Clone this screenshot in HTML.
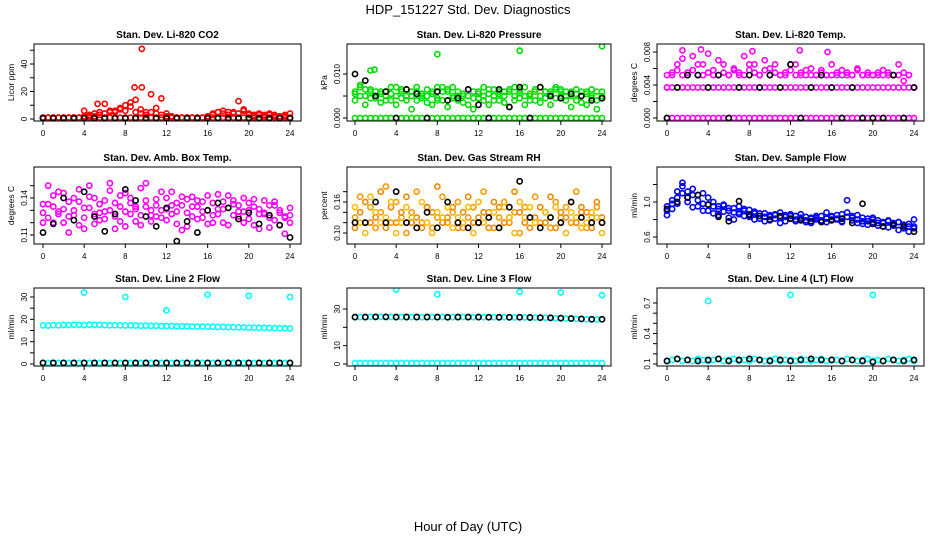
<!DOCTYPE html>
<html><head><meta charset="utf-8">
<style>
body{margin:0;background:#fff;}
svg{display:block;font-family:"Liberation Sans",sans-serif;}
</style></head>
<body>
<svg id="chart" width="936" height="540" viewBox="0 0 936 540">
<rect width="936" height="540" fill="#fff"/>
<text x="468" y="14" text-anchor="middle" font-size="13">HDP_151227  Std. Dev. Diagnostics</text>
<text x="468" y="531" text-anchor="middle" font-size="13">Hour of Day (UTC)</text>
</svg>
<script>
const xTicks=[0,4,8,12,16,20,24];
// P1 CO2
const co2Base=[1,1,1,1,1,1,1,1,1,1,1,1,1,1,1,1,1,1,1,1,1,1,1,1,1,1,1,1,1,1,1,1,1,1,1,1,1,1,1,1,1,1,1,1,1,1,1,1,1];
const co2A=[1,1,1,1,1,1,1,1,6,2,4,3,11,5,6,8,10,12,14,7,5,18,8,15,4,2,1,1,1,1,1,1,1,3,5,6,5,4,13,7,4,3,4,3,4,3,2,3,4];
const co2B=[1,1,1,1,1,1,1,1,2,3,2,5,4,6,5,7,6,9,5,4,3,5,4,3,2,1,1,1,1,1,1,1,2,4,5,4,3,5,4,6,3,2,3,2,3,2,1,2,1];
const co2Black=[0.5,0.5,0.5,0.5,0.5,0.5,0.5,0.5,0.5,0.5,0.5,0.5,0.5,0.5,0.5,0.5,0.5,0.5,0.5,0.5,0.5,0.5,0.5,0.5,0.5];
const co2OutT=[9.6,9.6,8.9,5.3];
const co2OutV=[51,23,23,11];
// P2 Pressure
const presZero=[0,0,0,0,0,0,0,0,0,0,0,0,0,0,0,0,0,0,0,0,0,0,0,0,0,0,0,0,0,0,0,0,0,0,0,0,0,0,0,0,0,0,0,0,0,0,0,0,0];
const presA=[0.006,0.007,0.0065,0.006,0.005,0.006,0.004,0.0055,0.007,0.006,0.0065,0.005,0.006,0.0045,0.0035,0.006,0.007,0.007,0.006,0.0045,0.006,0.005,0.003,0.006,0.0055,0.004,0.0065,0.005,0.006,0.0035,0.006,0.007,0.0065,0.005,0.004,0.006,0.007,0.0045,0.006,0.0065,0.005,0.004,0.006,0.0055,0.0035,0.006,0.005,0.004,0.006];
const presB=[0.004,0.005,0.003,0.0045,0.006,0.0035,0.005,0.004,0.003,0.0045,0.005,0.002,0.004,0.0055,0.005,0.003,0.0045,0.004,0.0025,0.005,0.004,0.0035,0.005,0.002,0.0045,0.005,0.003,0.004,0.0055,0.005,0.0025,0.004,0.0045,0.003,0.005,0.004,0.0035,0.006,0.003,0.0045,0.006,0.005,0.0025,0.004,0.005,0.003,0.0045,0.002,0.005];
const presC=[0.0055,0.0075,0.005,0.0065,0.0045,0.0055,0.006,0.007,0.005,0.0065,0.004,0.006,0.007,0.005,0.0065,0.0055,0.004,0.006,0.0065,0.007,0.005,0.0055,0.0065,0.0045,0.006,0.007,0.0055,0.0065,0.004,0.006,0.0065,0.005,0.006,0.007,0.0055,0.0065,0.005,0.006,0.0055,0.007,0.0065,0.006,0.005,0.0065,0.006,0.0055,0.0065,0.006,0.0045];
const presBlack=[0.01,0.0085,0.005,0.006,0,0.0065,0.0055,0,0.006,0.004,0.0045,0.0065,0.003,0,0.0065,0.0025,0.007,0,0.007,0.005,0.0045,0.0055,0.005,0.004,0.0045];
const presOutT=[8,16,24,1.5,1.9];
const presOutV=[0.0145,0.0153,0.0163,0.0108,0.011];
// P3 Li-820 temp
const tmpZero=[0,0,0,0,0,0,0,0,0,0,0,0,0,0,0,0,0,0,0,0,0,0,0,0,0,0,0,0,0,0,0,0,0,0,0,0,0,0,0,0,0,0,0,0,0,0,0,0,0];
const tmpMid=[0.0037,0.0037,0.0037,0.0037,0.0037,0.0037,0.0037,0.0037,0.0037,0.0037,0.0037,0.0037,0.0037,0.0037,0.0037,0.0037,0.0037,0.0037,0.0037,0.0037,0.0037,0.0037,0.0037,0.0037,0.0037,0.0037,0.0037,0.0037,0.0037,0.0037,0.0037,0.0037,0.0037,0.0037,0.0037,0.0037,0.0037,0.0037,0.0037,0.0037,0.0037,0.0037,0.0037,0.0037,0.0037,0.0037,0.0037,0.0037,0.0037];
const tmpA=[0.0052,0.0055,0.0065,0.0052,0.0055,0.0075,0.0052,0.0065,0.0055,0.0052,0.007,0.0055,0.0052,0.006,0.0055,0.0052,0.0065,0.0055,0.0052,0.007,0.006,0.0055,0.0052,0.0055,0.0065,0.0052,0.0055,0.0052,0.006,0.0052,0.0055,0.0052,0.0065,0.0055,0.0052,0.0055,0.0052,0.006,0.0052,0.0055,0.0052,0.0055,0.0052,0.0055,0.0052,0.0052,0.0055,0.0052,0.0037];
const tmpB=[0.0037,0.0052,0.0058,0.0072,0.0052,0.0058,0.0065,0.0052,0.0078,0.0058,0.0052,0.0065,0.0052,0.0058,0.0052,0.0075,0.0058,0.0065,0.0052,0.0058,0.0052,0.0065,0.0052,0.0052,0.0058,0.0065,0.0052,0.0058,0.0052,0.0052,0.0058,0.0052,0.0052,0.0052,0.0058,0.0052,0.0052,0.0058,0.0052,0.0052,0.0052,0.0052,0.0058,0.0052,0.0052,0.0065,0.0045,0.0052,0.0037];
const tmpBlack=[0,0.0037,0.0052,0.0052,0.0037,0.0052,0,0.0037,0.0052,0.0037,0.0052,0.0037,0.0065,0,0.0037,0.0052,0.0037,0,0.0037,0,0,0,0.0052,0,0.0037];
const tmpOutT=[1.5,3.3,8.3,12.9,15.6];
const tmpOutV=[0.0082,0.0083,0.0081,0.0082,0.008];
// P4 Amb box temp
const ambA=[0.128,0.135,0.120,0.145,0.131,0.125,0.140,0.118,0.132,0.150,0.127,0.122,0.138,0.130,0.115,0.142,0.129,0.136,0.121,0.148,0.133,0.126,0.139,0.124,0.131,0.145,0.119,0.134,0.128,0.141,0.123,0.137,0.130,0.126,0.143,0.120,0.132,0.138,0.125,0.129,0.136,0.118,0.131,0.127,0.134,0.122,0.130,0.125,0.120];
const ambB=[0.120,0.150,0.133,0.127,0.144,0.112,0.130,0.137,0.124,0.141,0.119,0.135,0.129,0.146,0.125,0.133,0.117,0.140,0.131,0.126,0.152,0.121,0.134,0.130,0.140,0.127,0.136,0.114,0.139,0.125,0.133,0.129,0.142,0.120,0.131,0.137,0.118,0.135,0.129,0.140,0.123,0.133,0.127,0.138,0.116,0.134,0.128,0.124,0.132];
const ambC=[0.135,0.124,0.142,0.129,0.120,0.137,0.126,0.147,0.115,0.132,0.140,0.128,0.123,0.152,0.136,0.121,0.144,0.127,0.133,0.118,0.138,0.130,0.125,0.145,0.122,0.134,0.129,0.141,0.117,0.133,0.138,0.124,0.119,0.136,0.127,0.131,0.142,0.126,0.134,0.120,0.130,0.139,0.115,0.128,0.124,0.137,0.118,0.111,0.126];
const ambBlack=[0.112,0.119,0.140,0.122,0.145,0.125,0.113,0.127,0.147,0.138,0.125,0.117,0.132,0.105,0.121,0.112,0.130,0.136,0.132,0.123,0.128,0.119,0.126,0.118,0.108];
// P5 Gas stream RH
const rhA=[0.13,0.17,0.12,0.15,0.11,0.14,0.19,0.12,0.16,0.13,0.10,0.14,0.18,0.12,0.15,0.11,0.13,0.17,0.12,0.14,0.16,0.11,0.13,0.15,0.12,0.18,0.14,0.11,0.13,0.16,0.12,0.14,0.10,0.15,0.13,0.17,0.12,0.14,0.11,0.16,0.13,0.15,0.12,0.18,0.14,0.11,0.13,0.15,0.12];
const rhB=[0.11,0.14,0.16,0.12,0.13,0.18,0.11,0.15,0.12,0.14,0.17,0.12,0.13,0.11,0.15,0.14,0.19,0.12,0.13,0.15,0.11,0.14,0.17,0.12,0.13,0.14,0.11,0.16,0.15,0.12,0.13,0.18,0.14,0.12,0.11,0.13,0.15,0.12,0.17,0.11,0.14,0.13,0.16,0.12,0.15,0.14,0.11,0.16,0.13];
const rhC=[0.15,0.12,0.10,0.17,0.14,0.12,0.13,0.16,0.10,0.12,0.15,0.13,0.11,0.16,0.12,0.10,0.14,0.13,0.15,0.11,0.13,0.12,0.15,0.10,0.16,0.12,0.13,0.14,0.11,0.15,0.13,0.10,0.16,0.13,0.15,0.12,0.11,0.14,0.13,0.15,0.12,0.10,0.14,0.13,0.11,0.12,0.14,0.13,0.10];
const rhBlack=[0.12,0.12,0.16,0.12,0.18,0.12,0.11,0.14,0.11,0.16,0.12,0.11,0.12,0.13,0.11,0.15,0.20,0.13,0.11,0.13,0.12,0.16,0.13,0.12,0.12];
// P6 Sample flow
const sfA=[0.90,0.98,1.05,1.10,1.12,1.08,1.02,0.98,1.05,0.95,0.92,0.96,0.90,0.93,0.88,0.92,0.86,0.89,0.84,0.87,0.83,0.86,0.82,0.85,0.81,0.84,0.80,0.83,0.82,0.80,0.84,0.81,0.83,0.80,0.86,0.88,0.82,0.80,0.78,0.81,0.77,0.79,0.76,0.78,0.75,0.77,0.74,0.72,0.70];
const sfB=[0.85,0.92,1.12,1.18,1.05,1.15,0.95,1.10,0.90,1.00,0.85,0.97,0.82,0.88,0.95,0.84,0.91,0.80,0.87,0.83,0.79,0.85,0.88,0.78,0.84,0.80,0.86,0.77,0.81,0.84,0.78,0.88,0.80,0.85,0.78,1.02,0.84,0.76,0.82,0.74,0.80,0.76,0.72,0.79,0.73,0.77,0.70,0.75,0.80];
const sfC=[0.95,1.02,0.98,1.22,1.00,0.94,1.08,0.90,0.97,0.87,0.95,0.89,0.93,0.80,0.86,0.90,0.83,0.87,0.81,0.78,0.85,0.81,0.76,0.83,0.86,0.78,0.82,0.79,0.76,0.82,0.79,0.77,0.84,0.81,0.77,0.83,0.79,0.85,0.75,0.78,0.82,0.73,0.77,0.71,0.76,0.68,0.74,0.66,0.72];
const sfBlack=[0.92,1.00,1.05,1.08,0.97,0.83,0.78,1.01,0.85,0.84,0.80,0.84,0.81,0.79,0.78,0.77,0.79,0.81,0.76,0.98,0.75,0.72,0.74,0.72,0.66];
// P7 Line 2 flow
const l2A=[17.3,17.2,17.4,17.3,17.5,17.4,17.6,17.5,17.4,17.6,17.5,17.5,17.4,17.3,17.4,17.3,17.2,17.3,17.2,17.1,17.2,17.1,17.1,17.0,17.0,17.0,16.9,16.9,16.9,16.8,16.8,16.8,16.7,16.7,16.6,16.6,16.5,16.5,16.4,16.4,16.3,16.3,16.2,16.2,16.1,16.1,16.0,16.0,15.9];
const l2Zero=[0.5,0.5,0.5,0.5,0.5,0.5,0.5,0.5,0.5,0.5,0.5,0.5,0.5,0.5,0.5,0.5,0.5,0.5,0.5,0.5,0.5,0.5,0.5,0.5,0.5,0.5,0.5,0.5,0.5,0.5,0.5,0.5,0.5,0.5,0.5,0.5,0.5,0.5,0.5,0.5,0.5,0.5,0.5,0.5,0.5,0.5,0.5,0.5,0.5];
const l2OutT=[4,8,12,16,20,24];
const l2OutV=[32,30,24,31,30.5,30];
// P8 Line 3 flow
const l3A=[25.5,25.6,25.6,25.7,25.6,25.7,25.6,25.7,25.6,25.6,25.7,25.6,25.6,25.5,25.6,25.6,25.5,25.6,25.5,25.6,25.5,25.6,25.5,25.5,25.6,25.5,25.5,25.5,25.4,25.5,25.4,25.4,25.5,25.4,25.3,25.3,25.2,25.2,25.1,25.0,24.9,24.8,24.7,24.6,24.5,24.4,24.4,24.3,24.4];
const l3Zero=[0.5,0.5,0.5,0.5,0.5,0.5,0.5,0.5,0.5,0.5,0.5,0.5,0.5,0.5,0.5,0.5,0.5,0.5,0.5,0.5,0.5,0.5,0.5,0.5,0.5,0.5,0.5,0.5,0.5,0.5,0.5,0.5,0.5,0.5,0.5,0.5,0.5,0.5,0.5,0.5,0.5,0.5,0.5,0.5,0.5,0.5,0.5,0.5,0.5];
const l3Black=[25.6,25.6,25.7,25.7,25.6,25.6,25.6,25.6,25.6,25.5,25.6,25.6,25.6,25.5,25.5,25.5,25.5,25.4,25.3,25.2,25.0,24.8,24.6,24.4,24.4];
const l3OutT=[4,8,16,20,24];
const l3OutV=[40.5,38,39.5,39,37.5];
// P9 Line 4 flow
const l4A=[0.13,0.14,0.15,0.13,0.14,0.13,0.15,0.14,0.13,0.14,0.15,0.13,0.14,0.15,0.13,0.14,0.13,0.15,0.14,0.13,0.14,0.15,0.13,0.14,0.14,0.13,0.15,0.14,0.13,0.14,0.15,0.13,0.14,0.14,0.13,0.15,0.14,0.13,0.14,0.15,0.13,0.14,0.13,0.15,0.14,0.13,0.14,0.15,0.13];
const l4Black=[0.13,0.15,0.14,0.13,0.14,0.15,0.13,0.14,0.15,0.14,0.13,0.14,0.13,0.14,0.15,0.14,0.14,0.13,0.14,0.13,0.12,0.13,0.14,0.13,0.14];
const l4OutT=[4,12,20];
const l4OutV=[0.72,0.78,0.78];

const cols=[{L:34,R:301,x0:43,x24:290},{L:347,R:611,x0:355,x24:602},{L:657,R:924,x0:667,x24:914}];
const rows=[{T:44,B:121},{T:167,B:244},{T:288,B:366}];
const panels=[
 {id:'co2',title:'Stan. Dev. Li-820 CO2',ylab:'Licor ppm',c:0,r:0,v0:0,p0:119,v1:40,p1:64,ticks:[0,10,20,30,40,50],labels:[0,20,40],dec:0,
  series:[[co2Base,0.5,'#f00'],[co2B,0.5,'#f00'],[co2A,0.5,'#f00'],[co2Black,1,'#000']],out:[co2OutT,co2OutV,'#f00']},
 {id:'pressure',title:'Stan. Dev. Li-820 Pressure',ylab:'kPa',c:1,r:0,v0:0,p0:118,v1:0.01,p1:74,ticks:[0,0.005,0.01],labels:[0,0.01],dec:3,
  series:[[presZero,0.5,'#0d0'],[presB,0.5,'#0d0'],[presA,0.5,'#0d0'],[presC,0.5,'#0d0'],[presBlack,1,'#000']],out:[presOutT,presOutV,'#0d0']},
 {id:'li-temp',title:'Stan. Dev. Li-820 Temp.',ylab:'degrees C',c:2,r:0,v0:0,p0:118,v1:0.008,p1:52,ticks:[0,0.002,0.004,0.006,0.008],labels:[0,0.004,0.008],dec:3,
  series:[[tmpZero,0.5,'#f0f'],[tmpMid,0.5,'#f0f'],[tmpA,0.5,'#f0f'],[tmpB,0.5,'#f0f'],[tmpBlack,1,'#000']],out:[tmpOutT,tmpOutV,'#f0f']},
 {id:'amb-temp',title:'Stan. Dev. Amb. Box Temp.',ylab:'degrees C',c:0,r:1,v0:0.11,p0:235,v1:0.14,p1:198,ticks:[0.11,0.12,0.13,0.14,0.15],labels:[0.11,0.14],dec:2,
  series:[[ambA,0.5,'#f0f'],[ambB,0.5,'#f0f'],[ambC,0.5,'#f0f'],[ambBlack,1,'#000']]},
 {id:'rh',title:'Stan. Dev. Gas Stream RH',ylab:'percent',c:1,r:1,v0:0.10,p0:233,v1:0.16,p1:202,ticks:[0.10,0.12,0.14,0.16,0.18],labels:[0.10,0.16],dec:2,
  series:[[rhA,0.5,'#f90'],[rhB,0.5,'#e80'],[rhC,0.5,'#fb0'],[rhBlack,1,'#000']]},
 {id:'sample-flow',title:'Stan. Dev. Sample Flow',ylab:'ml/min',c:2,r:1,v0:0.6,p0:237,v1:1.0,p1:202,ticks:[0.6,0.8,1.0,1.2],labels:[0.6,1.0],dec:1,
  series:[[sfA,0.5,'#00f'],[sfB,0.5,'#00f'],[sfC,0.5,'#00f'],[sfBlack,1,'#000']]},
 {id:'line2',title:'Stan. Dev. Line 2 Flow',ylab:'ml/min',c:0,r:2,v0:0,p0:364,v1:30,p1:297,ticks:[0,5,10,15,20,25,30],labels:[0,10,20,30],dec:0,
  series:[[l2A,0.5,'#0ff'],[l2Zero,0.5,'#0ff'],[co2Black,1,'#000']],out:[l2OutT,l2OutV,'#0ff']},
 {id:'line3',title:'Stan. Dev. Line 3 Flow',ylab:'ml/min',c:1,r:2,v0:0,p0:364,v1:30,p1:309,ticks:[0,10,20,30],labels:[0,10,30],dec:0,
  series:[[l3Zero,0.5,'#0ff'],[l3A,0.5,'#0ff'],[l3Black,1,'#000']],out:[l3OutT,l3OutV,'#0ff']},
 {id:'line4',title:'Stan. Dev. Line 4 (LT) Flow',ylab:'ml/min',c:2,r:2,v0:0.1,p0:364,v1:0.7,p1:303,ticks:[0.1,0.2,0.3,0.4,0.5,0.6,0.7],labels:[0.1,0.4,0.7],dec:1,
  series:[[l4A,0.5,'#0ff'],[l4Black,1,'#000']],out:[l4OutT,l4OutV,'#0ff']}
];

const NS='http://www.w3.org/2000/svg';
const svg=document.getElementById('chart');
function mk(tag,attrs,parent){const e=document.createElementNS(NS,tag);for(const k in attrs)e.setAttribute(k,attrs[k]);parent.appendChild(e);return e;}

panels.forEach(p=>{
  const C=cols[p.c],Rw=rows[p.r];
  const g=mk('g',{},svg);
  
  
  const xs=t=>C.x0+(C.x24-C.x0)*t/24;
  const ys=v=>p.p0+(p.p1-p.p0)*(v-p.v0)/(p.v1-p.v0);
  const cp=mk('clipPath',{id:'clip-'+p.id},g);
  mk('rect',{x:C.L,y:Rw.T,width:C.R-C.L,height:Rw.B-Rw.T},cp);
  const pts=mk('g',{'clip-path':'url(#clip-'+p.id+')'},g);
  
  
  p.series.forEach(s=>{
    const vals=s[0],step=s[1],col=s[2];
    vals.forEach((v,i)=>{
      const c=mk('circle',{cx:xs(i*step),cy:ys(v),r:2.6,fill:'none',stroke:col,'stroke-width':1.6},pts);
      
      
    });
  });
  if(p.out){
    p.out[0].forEach((t,i)=>{
      const c=mk('circle',{cx:xs(t),cy:ys(p.out[1][i]),r:2.6,fill:'none',stroke:p.out[2],'stroke-width':1.6},pts);
      
      
    });
  }
  const box=mk('rect',{x:C.L,y:Rw.T,width:C.R-C.L,height:Rw.B-Rw.T,fill:'none',stroke:'#000','stroke-width':1},g);
  
  
  const tt=mk('text',{x:(C.L+C.R)/2,y:Rw.T-6,'text-anchor':'middle','font-size':10,'font-weight':'bold'},g);
  tt.textContent=p.title;
  
  
  xTicks.forEach(t=>{
    mk('line',{x1:xs(t),x2:xs(t),y1:Rw.B,y2:Rw.B+4,stroke:'#000'},g);
    const l=mk('text',{x:xs(t),y:Rw.B+15,'text-anchor':'middle','font-size':8},g);
    l.textContent=t;
    
    
  });
  p.ticks.forEach(v=>{
    const y=ys(v);if(y<Rw.T-3||y>Rw.B+3)return;
    mk('line',{x1:C.L,x2:C.L-4,y1:y,y2:y,stroke:'#000'},g);
  });
  p.labels.forEach(v=>{
    const y=ys(v);
    const l=mk('text',{x:C.L-7,y:y,'text-anchor':'middle','font-size':8,transform:'rotate(-90 '+(C.L-7)+' '+y+')'},g);
    l.textContent=v.toFixed(p.dec);
    
    
  });
  const ym=(Rw.T+Rw.B)/2;
  const yl=mk('text',{x:C.L-20,y:ym,'text-anchor':'middle','font-size':8.5,transform:'rotate(-90 '+(C.L-20)+' '+ym+')'},g);
  yl.textContent=p.ylab;
  
  
});
</script>
</body></html>
